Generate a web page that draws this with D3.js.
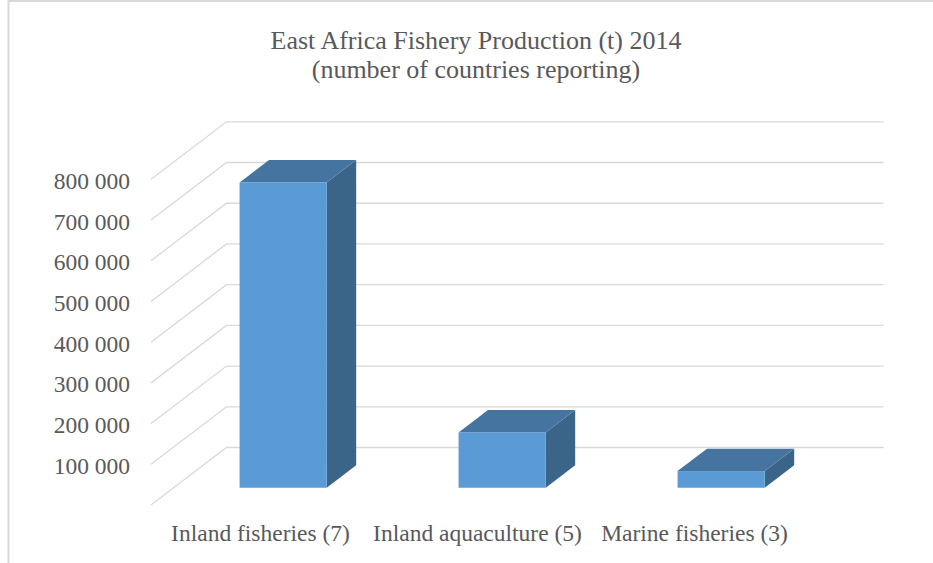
<!DOCTYPE html>
<html>
<head>
<meta charset="utf-8">
<script src="https://cdn.jsdelivr.net/npm/d3@7"></script>
<style>
  html, body { margin: 0; padding: 0; background: #fff; }
  svg { display: block; }
</style>
</head>
<body>
<svg id="chart" width="933" height="563"></svg>
<script>
// ---- data ----
const titleLines = ["East Africa Fishery Production (t) 2014", "(number of countries reporting)"];
const categories = ["Inland fisheries (7)", "Inland aquaculture (5)", "Marine fisheries (3)"];
const values = [750000, 136000, 41000];
const yTicks = [0, 100000, 200000, 300000, 400000, 500000, 600000, 700000, 800000];

// ---- layout ----
const svg = d3.select("#chart");
const W = 933, H = 563;
const font = "'Liberation Serif', 'Times New Roman', serif";
const textColor = "#595959";
const gridColor = "#D9D9D9";

// front edge of the floor, and full depth vector of the 3D box
const floorLeft = 151, floorRight = 808;
const depth = { dx: 75.5, dy: -57.5 };
const barFront = 0.30, barBack = 0.69; // fraction of depth
const barWidthFrac = 0.398;

const x = d3.scaleBand().domain(categories).range([floorLeft, floorRight]).padding(0);
const y = d3.scaleLinear().domain([0, 800000]).range([505, 179.3]);

// chart border
svg.append("rect")
  .attr("x", 8.5).attr("y", 1).attr("width", W + 20).attr("height", H + 20)
  .attr("fill", "none").attr("stroke", gridColor).attr("stroke-width", 2);

// title
const title = svg.append("text")
  .attr("x", 476).attr("y", 49)
  .attr("text-anchor", "middle")
  .attr("font-family", font).attr("font-size", 26)
  .attr("fill", textColor);
titleLines.forEach((t, i) => {
  title.append("tspan").attr("x", 476).attr("dy", i === 0 ? 0 : 29).text(t);
});

// gridlines: diagonal on side wall + horizontal on back wall
const grid = svg.append("g").attr("stroke", gridColor).attr("stroke-width", 1.3).attr("fill", "none");
yTicks.forEach(v => {
  const y0 = y(v);
  grid.append("path")
    .attr("d", `M${floorLeft},${y0}L${floorLeft + depth.dx},${y0 + depth.dy}L${floorRight + depth.dx},${y0 + depth.dy}`);
});

// y-axis labels
const fmt = v => d3.format(",")(v).replace(/,/g, " ");
svg.append("g").selectAll("text")
  .data(yTicks.filter(v => v > 0))
  .join("text")
  .attr("x", 130).attr("y", d => y(d) + 1.5)
  .attr("text-anchor", "end").attr("dominant-baseline", "central")
  .attr("font-family", font).attr("font-size", 23.5)
  .attr("fill", textColor)
  .text(fmt);

// category labels
svg.append("g").selectAll("text")
  .data(categories)
  .join("text")
  .attr("x", (d, i) => x(d) + x.bandwidth() / 2 - 2 * i)
  .attr("y", 540.5)
  .attr("text-anchor", "middle")
  .attr("font-family", font).attr("font-size", 23.5)
  .attr("fill", textColor)
  .text(d => d);

// 3D bars
const fx = barFront * depth.dx, fy = barFront * depth.dy;
const bx = barBack * depth.dx, by = barBack * depth.dy;
const bw = x.bandwidth() * barWidthFrac;
const bars = svg.append("g");
categories.forEach((c, i) => {
  const xl = x(c) + (x.bandwidth() - bw) / 2 + fx;
  const xr = xl + bw;
  const yb = y(0) + fy;
  const yt = y(values[i]) + fy;
  const ddx = bx - fx, ddy = by - fy;
  const g = bars.append("g");
  // side
  g.append("path")
    .attr("d", `M${xr},${yt}L${xr + ddx},${yt + ddy}L${xr + ddx},${yb + ddy}L${xr},${yb}Z`)
    .attr("fill", "#3A6488");
  // top
  g.append("path")
    .attr("d", `M${xl},${yt}L${xl + ddx},${yt + ddy}L${xr + ddx},${yt + ddy}L${xr},${yt}Z`)
    .attr("fill", "#44749F");
  // front
  g.append("rect")
    .attr("x", xl).attr("y", yt).attr("width", bw).attr("height", yb - yt)
    .attr("fill", "#5B9BD5");
});
</script>
</body>
</html>
